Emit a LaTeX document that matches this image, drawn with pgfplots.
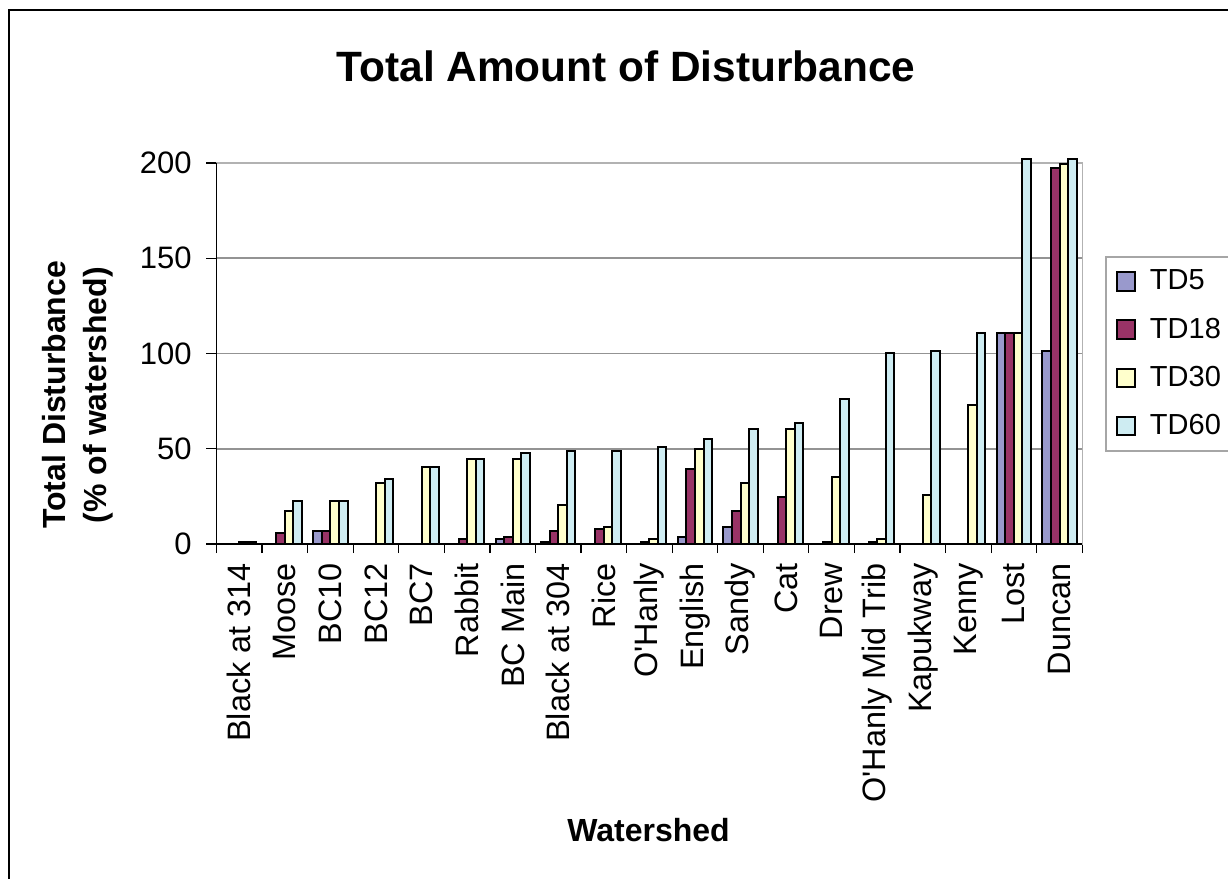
\documentclass[border=0pt]{standalone}
\usepackage{fontspec}
\setmainfont{Liberation Sans}
\usepackage{pgfplots}
\pgfplotsset{compat=1.18}
\usepackage{pgfplotstable}

\definecolor{tdfive}{RGB}{153,153,204}
\definecolor{tdeighteen}{RGB}{153,51,102}
\definecolor{tdthirty}{RGB}{255,255,204}
\definecolor{tdsixty}{RGB}{206,236,242}

% Total disturbance (% of watershed); nan = no bar
\pgfplotstableread{
idx TD5   TD18  TD30  TD60
0   nan   nan   1     1
1   nan   5.9   17.3  22.7
2   7.0   7.0   22.7  22.7
3   nan   nan   32.2  34.1
4   nan   nan   40.6  40.6
5   nan   2.8   44.4  44.4
6   2.4   3.9   44.4  47.9
7   1.2   6.8   20.3  48.8
8   nan   8.0   8.9   48.8
9   nan   1.2   2.8   50.9
10  3.9   39.5  49.9  55.0
11  9.1   17.3  32.2  60.2
12  nan   24.8  60.4  63.3
13  nan   1.2   35.3  76.1
14  nan   1.2   2.6   100.4
15  nan   nan   25.9  101.3
16  nan   nan   73.0  110.6
17  110.6 110.6 110.6 202
18  101.3 197.5 199.3 202
}\disturbance

\pgfplotsset{
  excel legend/.style={legend image code/.code={%
    \draw[##1] (0pt,-4.6pt) rectangle (9.2pt,4.6pt);
    \path (14pt,0pt);}},
}

\begin{document}
\begin{tikzpicture}
\useasboundingbox (0,0) rectangle (614pt,439.5pt);
\clip (0,0) rectangle (614pt,439.5pt);
% chart area border
\draw[line width=1pt] (4.6pt,-5pt) -- (4.6pt,434.6pt) -- (620pt,434.6pt);

\begin{axis}[
  at={(108.25pt,167.5pt)}, anchor=south west,
  scale only axis, width=432.9pt, height=190.5pt,
  xmin=-0.5, xmax=18.5, ymin=0, ymax=200,
  clip=false,
  ybar=0pt, bar width=4.27pt,
  ytick={0,50,100,150,200},
  xtick={0,...,18},
  xticklabels={Black at 314, Moose, BC10, BC12, BC7, Rabbit, BC Main,
    Black at 304, Rice, O\textquotesingle Hanly, English, Sandy, Cat, Drew,
    O\textquotesingle Hanly Mid Trib, Kapukway, Kenny, Lost, Duncan},
  minor xtick={-0.5,0.5,...,18.5},
  every major x tick/.append style={draw=none},
  tick pos=left,
  tick align=outside,
  major tick length=5pt,
  minor tick length=4.5pt,
  tick style={black, line width=0.6pt},
  ymajorgrids,
  grid style={gray!85, line width=0.8pt},
  axis line style={gray!60, line width=0.8pt},
  /pgf/number format/assume math mode=true,
  yticklabel style={font=\fontsize{15.5}{18}\selectfont, inner sep=0pt},
  xticklabel style={font=\fontsize{16.2}{18}\selectfont, inner sep=0pt,
    rotate=90, anchor=east},
  xticklabel shift=4.5pt,
  yticklabel shift=7.25pt,
  legend style={
    at={(1.0262,0.7559)}, anchor=north west,
    draw=gray!70, line width=1pt,
    font=\fontsize{14.5}{17}\selectfont,
    row sep=8.5pt, inner xsep=5pt, inner ysep=4.5pt,
  },
  legend cell align=left,
]
\addplot[fill=tdfive, draw=black, line width=1pt, excel legend]
  table[x=idx, y=TD5] {\disturbance};
\addplot[fill=tdeighteen, draw=black, line width=1pt, excel legend]
  table[x=idx, y=TD18] {\disturbance};
\addplot[fill=tdthirty, draw=black, line width=1pt, excel legend]
  table[x=idx, y=TD30] {\disturbance};
\addplot[fill=tdsixty, draw=black, line width=1pt, excel legend]
  table[x=idx, y=TD60] {\disturbance};
\legend{TD5, TD18, TD30, TD60}
% black value and category axes
\draw[black, line width=0.6pt] (rel axis cs:0,1) -- (rel axis cs:0,0) -- (rel axis cs:1,0);
\end{axis}

\node[anchor=base, font=\bfseries\fontsize{21.2}{25}\selectfont] at (313pt,398.5pt)
  {Total Amount of Disturbance};
\node[anchor=base, font=\bfseries\fontsize{16}{20}\selectfont] at (324.25pt,18.5pt)
  {Watershed};
\node[rotate=90, align=center, font=\bfseries\fontsize{16}{20.5}\selectfont]
  at (38.75pt,242pt) {Total Disturbance\\(\% of watershed)};
\end{tikzpicture}
\end{document}
